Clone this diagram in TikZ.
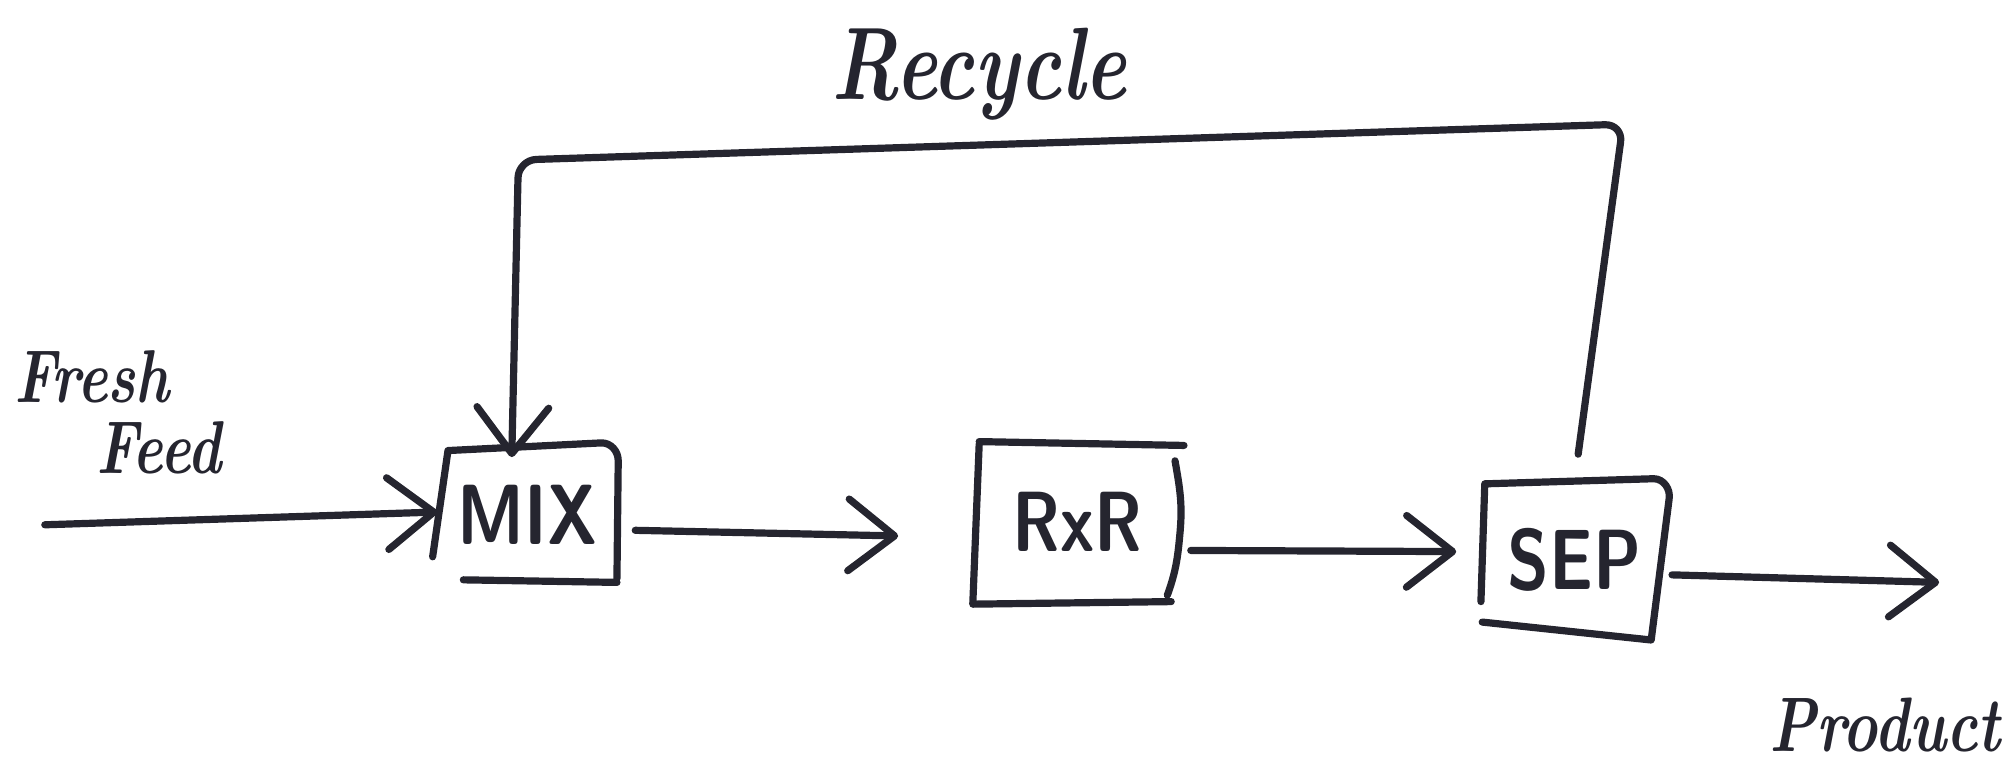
\documentclass[tikz,border=0pt]{standalone}
\usetikzlibrary{arrows.meta}
\definecolor{ink}{HTML}{25252F}
\begin{document}
\begin{tikzpicture}[x=0.025cm,y=-0.025cm,
  pen/.style={draw=ink,line width=4pt,line cap=round,line join=round},
  flow/.style={pen,-{Straight Barb[length=0.9cm,width=1.4cm,line cap=round,line join=round]}},
  unit/.style={inner sep=0pt,text=ink,font=\sffamily\bfseries\fontsize{38}{40}\selectfont,yscale=1.25},
  tag/.style={inner sep=0pt,text=ink,yscale=1.3}]
\useasboundingbox (0,0) rectangle (1568,601);

% unit operations (labels sit at the centre of each box)
\node[unit,minimum width=3.5cm,minimum height=2.1cm] (mix) at (412,402) {MIX};
\node[unit,minimum width=4cm,minimum height=2.5cm] (rxr) at (842,408) {RxR};
\node[unit,minimum width=3.6cm,minimum height=2.4cm] (sep) at (1230,437) {SEP};

% hand-drawn box outlines
\draw[pen] (338,435) -- (350,352) -- (470,346) to[out=0,in=90] (483,360) -- (482,452);
\draw[pen] (362,453) -- (482,455);
\draw[pen] (765,345) -- (925,348);
\draw[pen] (765,347) -- (760,472) -- (915,470);
\draw[pen] (918,360) to[out=-80,in=85] (922,415) to[out=-95,in=70] (912,465);
\draw[pen] (1157,470) -- (1160,378) -- (1292,374) to[out=0,in=80] (1304,390) -- (1290,500) -- (1158,486);

% stream labels
\node[tag,font=\bfseries\itshape\fontsize{44}{48}\selectfont] (rec) at (765,58) {Recycle};
\node[tag,font=\bfseries\itshape\fontsize{32}{36}\selectfont] (fresh) at (72,294) {Fresh};
\node[tag,font=\bfseries\itshape\fontsize{32}{36}\selectfont] (feed) at (124,350) {Feed};
\node[tag,font=\bfseries\itshape\fontsize{33}{36}\selectfont,anchor=west] (prod) at (1382,566) {Product};

% streams
\coordinate (feedin) at (35,410);
\coordinate (prodout) at (1515,455);
\coordinate (rc1) at (1268,97);
\coordinate (rc2) at (405,125);

\draw[flow] (feedin) -- ([yshift=0.05cm]mix.west);
\draw[flow,shorten <=0.35cm,shorten >=1.5cm] ([yshift=-0.3cm]mix.east) -- ([yshift=-0.3cm]rxr.west);
\draw[flow,shorten <=0.2cm,shorten >=0.5cm] ([yshift=-0.55cm]rxr.east) -- ([yshift=0.15cm]sep.west);
\draw[flow,shorten <=0.1cm] ([yshift=-0.3cm]sep.east) -- (prodout);
\draw[flow,rounded corners=0.35cm,shorten <=0.55cm,shorten >=-0.2cm]
  (sep.north) -- (rc1) -- (rc2) -- ([xshift=-0.3cm]mix.north);
\end{tikzpicture}
\end{document}
